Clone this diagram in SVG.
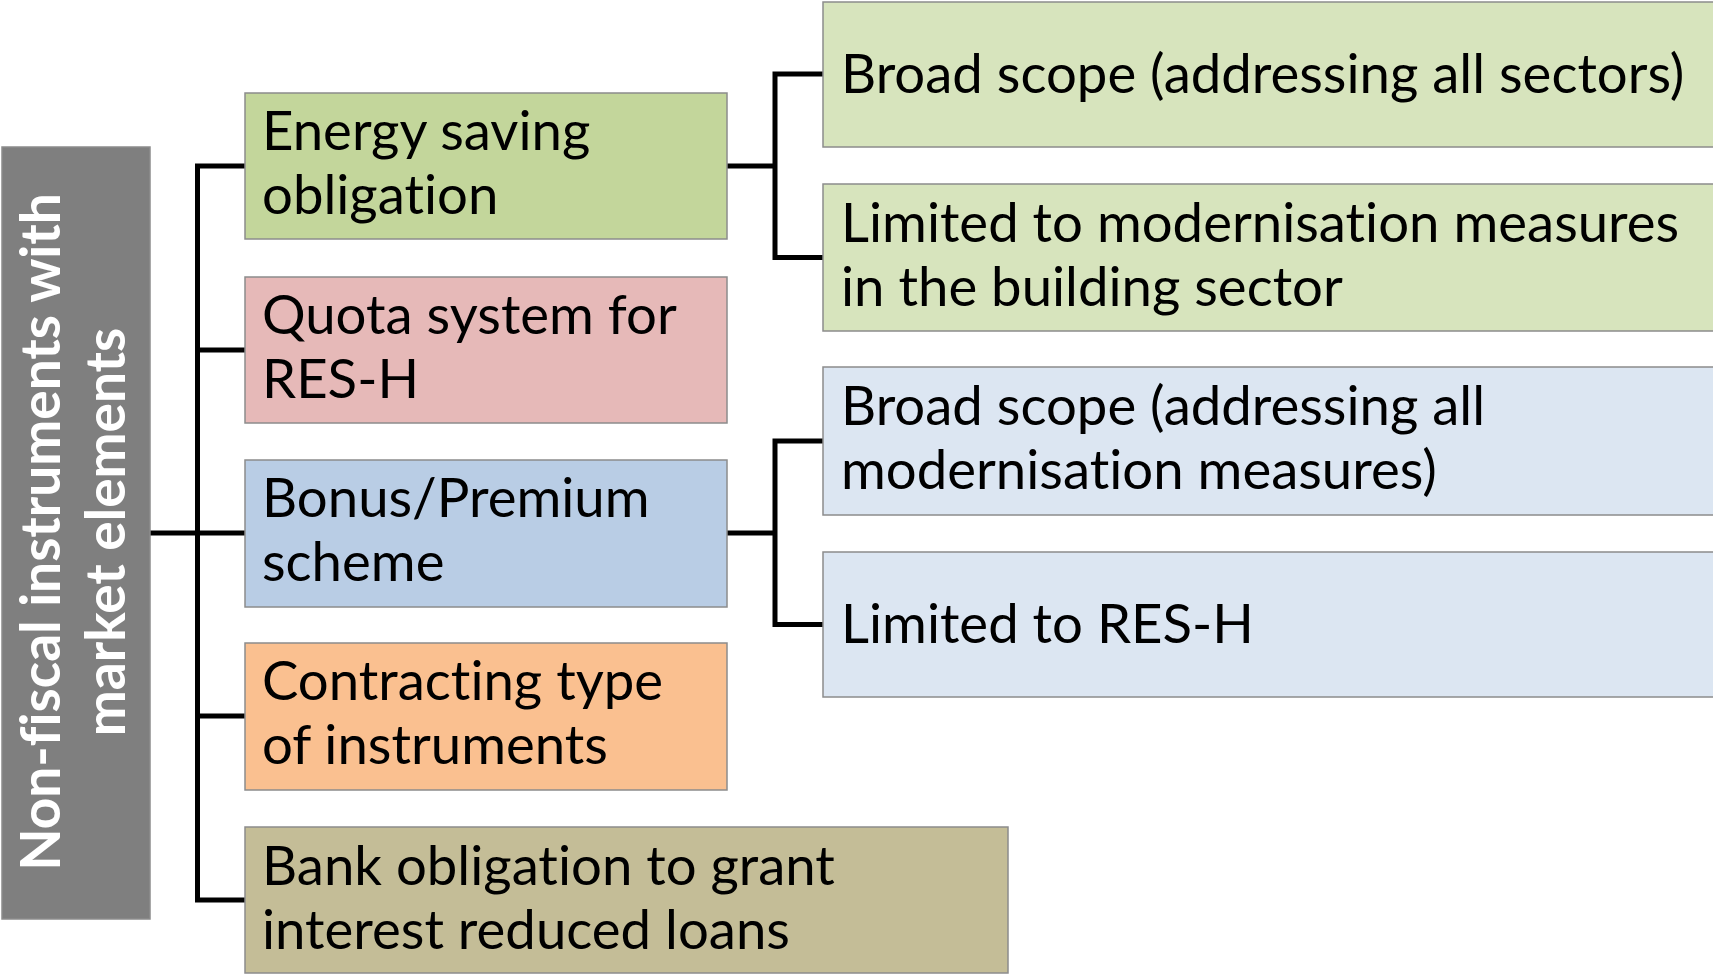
<svg xmlns="http://www.w3.org/2000/svg" width="1713" height="974" viewBox="0 0 1713 974">
  <style>
    .box { stroke: #8c8c8c; stroke-width: 1.5; }
    .lbl { font-family: Lato, "Liberation Sans", sans-serif; font-size: 54.5px; fill: #000; font-variant-ligatures: none; }
    .root { font-family: Lato, "Liberation Sans", sans-serif; font-weight: bold; font-size: 55px; fill: #fff; font-variant-ligatures: none; }
    .wire { fill: none; stroke: #000; stroke-width: 5; }
  </style>

  <!-- connectors -->
  <g id="connectors">
    <path class="wire" d="M150 533 H197.5"/>
    <path class="wire" d="M245 166 H197.5 V900 H245"/>
    <path class="wire" d="M197.5 350 H245"/>
    <path class="wire" d="M197.5 533 H245"/>
    <path class="wire" d="M197.5 716 H245"/>
    <path class="wire" d="M727 166 H775"/>
    <path class="wire" d="M823 74 H775 V257.5 H823"/>
    <path class="wire" d="M727 533 H775"/>
    <path class="wire" d="M823 441 H775 V624.5 H823"/>
  </g>

  <!-- root -->
  <g id="root">
    <rect class="box" x="2" y="147" width="148" height="772" fill="#7f7f7f"/>
    <text class="root" text-anchor="middle" transform="translate(60 532) rotate(-90)">Non-fiscal instruments with</text>
    <text class="root" text-anchor="middle" transform="translate(125 532) rotate(-90)">market elements</text>
  </g>

  <!-- second level -->
  <g id="energy-saving">
    <rect class="box" x="245" y="93" width="482" height="146" fill="#c3d69b"/>
    <text class="lbl" x="262" y="150">Energy saving</text>
    <text class="lbl" x="262" y="214">obligation</text>
  </g>
  <g id="quota">
    <rect class="box" x="245" y="277" width="482" height="146" fill="#e6b9b8"/>
    <text class="lbl" x="262" y="334">Quota system for</text>
    <text class="lbl" x="262" y="398">RES-H</text>
  </g>
  <g id="bonus">
    <rect class="box" x="245" y="460" width="482" height="147" fill="#b9cde5"/>
    <text class="lbl" x="262" y="517">Bonus/Premium</text>
    <text class="lbl" x="262" y="581">scheme</text>
  </g>
  <g id="contracting">
    <rect class="box" x="245" y="643" width="482" height="147" fill="#fac090"/>
    <text class="lbl" x="262" y="700">Contracting type</text>
    <text class="lbl" x="262" y="764">of instruments</text>
  </g>
  <g id="bank">
    <rect class="box" x="245" y="827" width="763" height="146" fill="#c4bd97"/>
    <text class="lbl" x="262" y="885">Bank obligation to grant</text>
    <text class="lbl" x="262" y="949">interest reduced loans</text>
  </g>

  <!-- third level -->
  <g id="es-broad">
    <rect class="box" x="823" y="2" width="900" height="145" fill="#d7e4bd"/>
    <text class="lbl" x="841" y="93">Broad scope (addressing all sectors)</text>
  </g>
  <g id="es-limited">
    <rect class="box" x="823" y="184" width="900" height="147" fill="#d7e4bd"/>
    <text class="lbl" x="841" y="242">Limited to modernisation measures</text>
    <text class="lbl" x="841" y="306">in the building sector</text>
  </g>
  <g id="bp-broad">
    <rect class="box" x="823" y="367" width="900" height="148" fill="#dce6f2"/>
    <text class="lbl" x="841" y="425">Broad scope (addressing all</text>
    <text class="lbl" x="841" y="489">modernisation measures)</text>
  </g>
  <g id="bp-limited">
    <rect class="box" x="823" y="552" width="900" height="145" fill="#dce6f2"/>
    <text class="lbl" x="841" y="643">Limited to RES-H</text>
  </g>
</svg>
